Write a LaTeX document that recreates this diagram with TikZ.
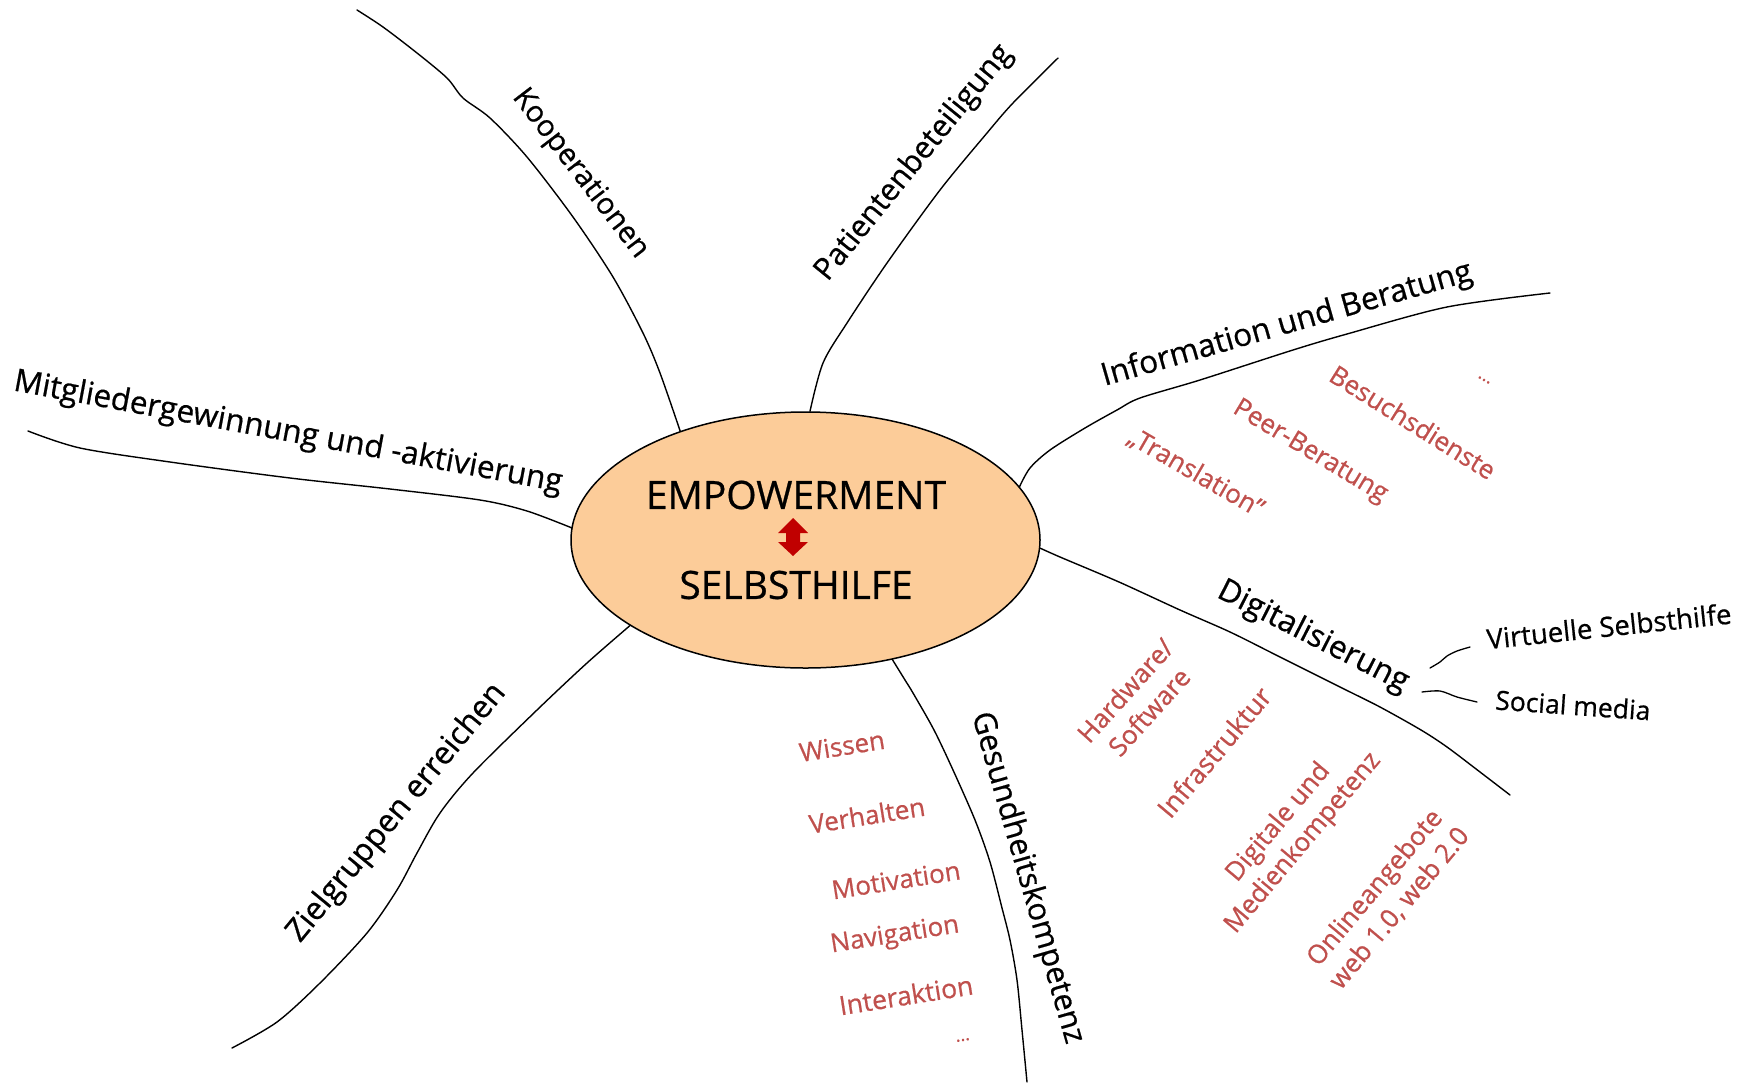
\documentclass[tikz,border=0pt]{standalone}
\usepackage{fontspec}
\setmainfont{Open Sans}[FakeBold=0.6]
\usetikzlibrary{shapes.geometric}
\definecolor{peach}{RGB}{252,204,153}
\definecolor{subred}{RGB}{192,80,77}
\definecolor{arrowred}{RGB}{192,0,0}
\tikzset{
  branch/.style={line width=1.4pt, line cap=round, line join=round},
  mainlabel/.style={inner sep=0pt, font=\fontsize{31.5}{36}\selectfont, text=black},
  sublabel/.style={inner sep=0pt, font=\fontsize{26}{32}\selectfont, text=subred, align=center},
  leaflabel/.style={inner sep=0pt, font=\fontsize{26.5}{32}\selectfont, text=black},
  corelabel/.style={inner sep=0pt, font=\fontsize{39}{46}\selectfont, text=black}
}
\begin{document}
\begin{tikzpicture}[x=1pt,y=-1pt]
\useasboundingbox[fill=white] (0,0) rectangle (1754,1082);

% central ellipse
\node[ellipse, draw, line width=1.5pt, fill=peach, minimum width=469pt, minimum height=256pt, inner sep=0pt] (core) at (805.5,540) {};
\node[corelabel] (emp) at (796,495) {EMPOWERMENT};
\node[corelabel] (selb) at (796,585) {SELBSTHILFE};
\fill[arrowred] (793,518) -- (808,533) -- (800,533) -- (800,542) -- (808,542) -- (793,556) -- (778,542) -- (786,542) -- (786,533) -- (778,533) -- cycle;

% branches
\draw[branch] plot[smooth, tension=0.5] coordinates {(core.139) (660,373) (643,333) (613,277) (573,217) (527,157) (490,118) (463,98) (447,78) (417,53) (383,27) (357,10)};
\draw[branch] plot[smooth, tension=0.5] coordinates {(core.88) (823,363) (847,323) (887,263) (940,190) (987,133) (1013,103) (1058,58)};
\draw[branch] plot[smooth, tension=0.5] coordinates {(core.14) (1030,468) (1050,450) (1085,428) (1117,410) (1140,398) (1200,380) (1293,350) (1347,334) (1447,307) (1550,293)};
\draw[branch] plot[smooth, tension=0.5] coordinates {(core.177) (527,511) (480,500) (390,489) (290,478) (170,462) (80,448) (28,431)};
\draw[branch] plot[smooth, tension=0.5] coordinates {(core.206) (587,663) (537,710) (473,773) (440,813) (417,853) (397,890) (367,933) (320,983) (277,1022) (232,1048)};
\draw[branch] plot[smooth, tension=0.5] coordinates {(core.-2) (1060,557) (1119,582) (1180,610) (1230,632) (1280,657) (1342,688) (1380,707) (1421,730) (1447,747) (1480,772) (1510,795)};
\draw[branch] plot[smooth, tension=0.5] coordinates {(core.-54) (905,680) (913,693) (934,730) (953,770) (975,820) (990,862) (1002,908) (1010,940) (1017,980) (1022,1030) (1027,1082)};

% main labels
\node[mainlabel, rotate=-52.5, font=\fontsize{29.5}{36}\selectfont] (koop) at (580,174) {Kooperationen};
\node[mainlabel, rotate=51, font=\fontsize{30.5}{36}\selectfont] (pat) at (914,163) {Patientenbeteiligung};
\node[mainlabel, rotate=16] (info) at (1287,325) {Information und Beratung};
\node[mainlabel, rotate=-10.5] (mitg) at (288,433) {Mitgliedergewinnung und -aktivierung};
\node[mainlabel, rotate=50.5] (ziel) at (397,813) {Zielgruppen erreichen};
\node[mainlabel, rotate=-27] (digi) at (1313,637) {Digitalisierung};
\node[mainlabel, rotate=-74, font=\fontsize{31}{36}\selectfont] (gesu) at (1027,878) {Gesundheitskompetenz};

% Information sub items
\node[sublabel, rotate=-30] (trans) at (1196,473) {„Translation"};
\node[sublabel, rotate=-31] (peer) at (1310,452) {Peer-Beratung};
\node[sublabel, rotate=-32] (besu) at (1413,422) {Besuchsdienste};
\node[sublabel, rotate=-30, font=\fontsize{18}{22}\selectfont] (infodots) at (1484,380) {...};

% Gesundheitskompetenz sub items
\node[sublabel, rotate=9] (wiss) at (842,746) {Wissen};
\node[sublabel, rotate=9] (verh) at (867,815) {Verhalten};
\node[sublabel, rotate=9] (moti) at (896,880) {Motivation};
\node[sublabel, rotate=9] (navi) at (895,936) {Navigation};
\node[sublabel, rotate=9, font=\fontsize{26.5}{32}\selectfont] (inte) at (906,995) {Interaktion};
\node[sublabel, rotate=9, font=\fontsize{18}{22}\selectfont] (gesudots) at (963,1040) {...};

% Digitalisierung sub items
\node[sublabel, rotate=48] (hard) at (1137,701) {Hardware/\\Software};
\node[sublabel, rotate=50, font=\fontsize{27}{32}\selectfont] (infra) at (1214,752) {Infrastruktur};
\node[sublabel, rotate=50] (medien) at (1291,833) {Digitale und\\Medienkompetenz};
\node[sublabel, rotate=50] (online) at (1387,898) {Onlineangebote\\web 1.0, web 2.0};

% leaves of Digitalisierung
\node[leaflabel, rotate=6, font=\fontsize{27.5}{32}\selectfont] (virt) at (1609,626) {Virtuelle Selbsthilfe};
\node[leaflabel, rotate=-4] (soc) at (1573,705) {Social media};
\coordinate (virtstart) at (1430,668);
\coordinate (socstart) at (1422,692);
\draw[line width=1.3pt, line cap=round] plot[smooth, tension=0.5] coordinates {(virtstart) (1440,662) (1447,656) (1457,651) (1470,647)};
\draw[line width=1.3pt, line cap=round] plot[smooth, tension=0.5] coordinates {(socstart) (1440,691) (1457,697) (1477,702)};
\end{tikzpicture}
\end{document}
